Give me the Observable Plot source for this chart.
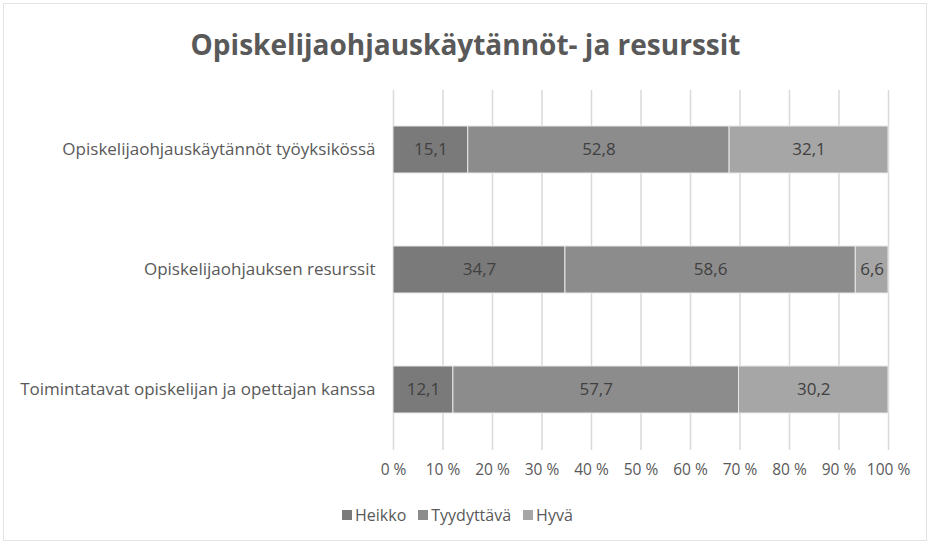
<!DOCTYPE html>
<html>
<head>
<meta charset="utf-8">
<script src="https://cdn.jsdelivr.net/npm/d3@7"></script>
<script src="https://cdn.jsdelivr.net/npm/@observablehq/plot@0.6"></script>
<style>
  html, body { margin: 0; padding: 0; background: #fff; }
  #wrap { position: relative; width: 931px; height: 545px; font-family: "Open Sans", sans-serif; overflow: hidden; }
  #frame { position: absolute; left: 3px; top: 3px; width: 924px; height: 538px; border: 1px solid #e3e3e3; box-sizing: border-box; }
  #title { position: absolute; left: 0; width: 931px; top: 25px; text-align: center; font-size: 28px; font-weight: bold; color: #595959; }
  #chart { position: absolute; left: 0; top: 80px; }
  #legend { position: absolute; top: 504px; left: 342px; display: flex; gap: 12px; font-size: 16px; color: #595959; }
  .item { display: flex; align-items: center; gap: 3px; }
  .sw { width: 10px; height: 10px; display: inline-block; }
</style>
</head>
<body>
<div id="wrap">
  <div id="frame"></div>
  <div id="title">Opiskelijaohjauskäytännöt- ja resurssit</div>
  <div id="chart"></div>
  <div id="legend"></div>
</div>
<script>
const categories = [
  "Opiskelijaohjauskäytännöt työyksikössä",
  "Opiskelijaohjauksen resurssit",
  "Toimintatavat opiskelijan ja opettajan kanssa"
];
const seriesNames = ["Heikko", "Tyydyttävä", "Hyvä"];
const heikko = [15.1, 34.7, 12.1];
const tyydyttava = [52.8, 58.6, 57.7];
const hyva = [32.1, 6.6, 30.2];
const colors = ["#7a7a7a", "#8c8c8c", "#a6a6a6"];
const xTicks = [0, 0.1, 0.2, 0.3, 0.4, 0.5, 0.6, 0.7, 0.8, 0.9, 1.0];

const seriesValues = [heikko, tyydyttava, hyva];
const data = [];
categories.forEach((c, i) => {
  seriesNames.forEach((s, j) => {
    data.push({category: c, series: s, value: seriesValues[j][i]});
  });
});

const fmt = v => v.toFixed(1).replace(".", ",");

const plot = Plot.plot({
  width: 931,
  height: 410,
  marginLeft: 393,
  marginRight: 43,
  marginTop: 10,
  marginBottom: 40,
  style: { fontFamily: "Open Sans, sans-serif", fontSize: "15.5px", color: "#595959", background: "transparent" },
  x: { domain: [0, 1], ticks: xTicks, tickFormat: d => Math.round(d * 100) + " %", label: null, tickSize: 0, tickPadding: 13 },
  y: { domain: categories, label: null, tickSize: 0, tickPadding: 18, paddingInner: 0.608, paddingOuter: 0.304 },
  color: { domain: seriesNames, range: colors },
  marks: [
    Plot.gridX(xTicks, { stroke: "#d9d9d9", strokeOpacity: 1, strokeWidth: 1.5 }),
    Plot.axisY({ tickSize: 0, tickPadding: 18, fontSize: 17, label: null }),
    Plot.barX(data, Plot.stackX({ x: "value", y: "category", z: "series", fill: "series", order: seriesNames, offset: "normalize", stroke: "#e8e8e8", strokeWidth: 1 })),
    Plot.text(data, Plot.stackX({ x: "value", y: "category", z: "series", text: d => fmt(d.value), order: seriesNames, offset: "normalize", fill: "#404040", fontSize: 17 }))
  ]
});
document.getElementById("chart").appendChild(plot);

const legend = document.getElementById("legend");
seriesNames.forEach((s, j) => {
  const it = document.createElement("div");
  it.className = "item";
  const sw = document.createElement("span");
  sw.className = "sw";
  sw.style.background = colors[j];
  const t = document.createElement("span");
  t.textContent = s;
  it.appendChild(sw);
  it.appendChild(t);
  legend.appendChild(it);
});
</script>
</body>
</html>
